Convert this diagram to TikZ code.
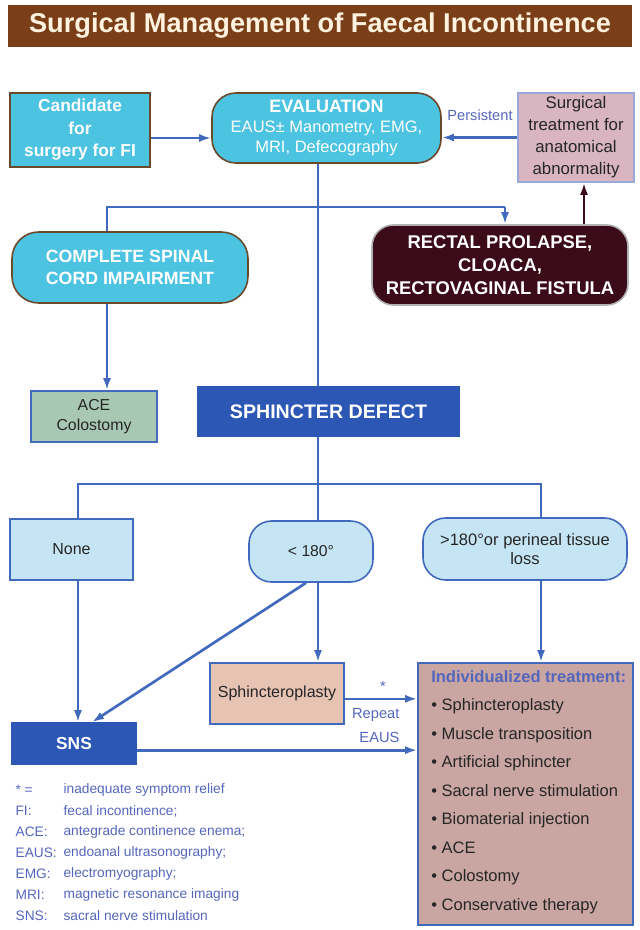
\documentclass[tikz,border=0pt]{standalone}
\usepackage{fontspec}
\setmainfont{Liberation Sans}
\usetikzlibrary{arrows.meta,positioning}
\definecolor{titlebrown}{HTML}{7A3E18}
\definecolor{cream}{HTML}{FFF2DF}
\definecolor{evalcyan}{HTML}{4CC3E1}
\definecolor{boxbrown}{HTML}{6B4A2C}
\definecolor{flowblue}{HTML}{4169BE}
\definecolor{darkblue}{HTML}{2D57B5}
\definecolor{paleblue}{HTML}{C6E5F4}
\definecolor{mauve}{HTML}{D8B5C1}
\definecolor{lilac}{HTML}{9AA8DC}
\definecolor{maroon}{HTML}{3C0B19}
\definecolor{sage}{HTML}{A9C8B3}
\definecolor{peach}{HTML}{E7C3B3}
\definecolor{dusty}{HTML}{C9A6A1}
\definecolor{legendblue}{HTML}{5466BC}

\begin{document}
\begin{tikzpicture}[x=0.75pt,y=-0.75pt,font=\fontsize{12}{16.5}\selectfont,
  box/.style={draw,line width=1.2pt,align=center,inner sep=2pt},
  cyanbox/.style={box,draw=boxbrown,fill=evalcyan,text=white,font=\fontsize{13}{16.9}\selectfont\bfseries},
  darkbox/.style={box,draw=darkblue,fill=darkblue,text=white,font=\fontsize{13}{16}\selectfont\bfseries},
  lightbox/.style={box,draw=flowblue,fill=paleblue,text=black!85},
  flow/.style={draw=flowblue,line width=2pt},
  arr/.style={-{Latex[length=9pt,width=6pt]}},
  bluetext/.style={text=legendblue,inner sep=1pt,font=\fontsize{11}{13}\selectfont},
  legend/.style={bluetext,anchor=west,font=\fontsize{10.3}{12}\selectfont}]
\useasboundingbox (0,0) rectangle (639,930);

\node[fill=titlebrown,text=cream,minimum width=468pt,minimum height=31.5pt,
  font=\fontsize{20.4}{22}\selectfont\bfseries] (title) at (320,26) {Surgical Management of Faecal Incontinence};

% top row
\node[cyanbox,minimum width=105pt,minimum height=55.5pt] (cand) at (80,130) {Candidate\\for\\surgery for FI};
\node[cyanbox,rounded corners=18pt,minimum width=171.75pt,minimum height=52.5pt,
  font=\fontsize{12.4}{15}\selectfont] (eval) at (326.5,128)
  {{\fontsize{13.5}{15}\selectfont\bfseries EVALUATION}\\EAUS± Manometry, EMG,\\MRI, Defecography};
\node[box,draw=lilac,fill=mauve,text=black!85,minimum width=87pt,minimum height=66.75pt,
  font=\fontsize{12.6}{16.5}\selectfont] (surg) at (576,137.5)
  {Surgical\\treatment for\\anatomical\\abnormality};
\node[bluetext] (persist) at (480,115) {Persistent};

% second row
\node[cyanbox,rounded corners=20pt,minimum width=177pt,minimum height=53.25pt,
  font=\fontsize{13.3}{16.5}\selectfont\bfseries] (spinal) at (130,267.5) {COMPLETE SPINAL\\CORD IMPAIRMENT};
\node[box,draw=gray!60,fill=maroon,text=white,rounded corners=16pt,minimum width=192pt,minimum height=60pt,
  font=\fontsize{13.8}{17}\selectfont\bfseries] (rectal) at (500,265) {RECTAL PROLAPSE,\\CLOACA,\\RECTOVAGINAL FISTULA};

\node[box,draw=flowblue,fill=sage,text=black!85,minimum width=94.5pt,minimum height=38.25pt,
  font=\fontsize{11.9}{15}\selectfont] (ace) at (94,416.5) {ACE\\Colostomy};
\node[darkbox,minimum width=195.75pt,minimum height=36.75pt,font=\fontsize{14.7}{16}\selectfont\bfseries] (defect) at (328.5,411.5) {SPHINCTER DEFECT};

% defect grades
\node[lightbox,minimum width=92.25pt,minimum height=45.75pt] (none) at (71.5,549.5) {None};
\node[lightbox,rounded corners=17pt,minimum width=93pt,minimum height=45.75pt,font=\fontsize{11.8}{14}\selectfont] (small) at (311,551.5) {< 180°};
\node[lightbox,rounded corners=17pt,minimum width=153pt,minimum height=46.5pt,font=\fontsize{12.4}{14.2}\selectfont] (large) at (525,549)
  {>180°or perineal tissue\\loss};

\node[box,draw=flowblue,fill=peach,text=black!85,minimum width=100.5pt,minimum height=45.75pt] (plasty) at (277,693.5) {Sphincteroplasty};
\node[darkbox,minimum width=93pt,minimum height=30.75pt] (sns) at (74,743.5) {SNS};
\node[box,draw=flowblue,fill=dusty,minimum width=161.25pt,minimum height=196.5pt] (indiv) at (525.5,794) {};
\node[anchor=north west,align=left,inner sep=0pt,text=black!85,font=\fontsize{12.4}{21.4}\selectfont] (indivlist) at (431,670)
  {{\color{legendblue}\bfseries Individualized treatment:}\\
   • Sphincteroplasty\\
   • Muscle transposition\\
   • Artificial sphincter\\
   • Sacral nerve stimulation\\
   • Biomaterial injection\\
   • ACE\\
   • Colostomy\\
   • Conservative therapy};

% branch points
\coordinate (top) at (318,207);
\coordinate (topL) at (107,207);
\coordinate (topR) at (505,207);
\coordinate (mid) at (318,484);
\coordinate (midL) at (78,484);
\coordinate (midR) at (541,484);

% connectors
\draw[flow,arr] ([yshift=-6pt]cand.east) -- ([yshift=-6pt]cand.east -| eval.west);
\draw[flow,arr] (surg.west) -- (surg.west -| eval.east);
\draw[flow] (eval.south -| top) -- (defect.north -| top);
\draw[flow] (topL |- spinal.north) -- (topL) -- (topR);
\draw[flow,arr] (topR) -- (topR |- rectal.north);
\draw[draw=maroon,line width=2pt,arr] ([xshift=6pt]rectal.north -| surg.south) -- ([xshift=6pt]surg.south);
\draw[flow,arr] (spinal.south -| topL) -- (ace.north -| topL);
\draw[flow] (defect.south -| mid) -- (small.north -| mid);
\draw[flow] (midL |- none.north) -- (midL) -- (midR) -- (midR |- large.north);
\draw[flow,arr] (none.south -| midL) -- (sns.north -| midL);
\draw[flow,arr] ([xshift=-3.75pt]small.south) -- ([xshift=13.5pt]sns.north);
\draw[flow,arr] (small.south -| mid) -- (plasty.north -| mid);
\draw[flow,arr] (large.south -| midR) -- (indiv.north -| midR);
\draw[flow,arr] ([yshift=-4pt]plasty.east) -- ([yshift=-4pt]plasty.east -| indiv.west);
\draw[flow,arr] ([yshift=-5pt]sns.east) -- ([yshift=-5pt]sns.east -| indiv.west);

\node[bluetext] (star) at (383,686) {*};
\node[bluetext,anchor=east] (repeat) at (401,715) {Repeat};
\node[bluetext,anchor=east] (eaus) at (401,737) {EAUS};

% legend
\foreach \k/\v [count=\n] in {* =/inadequate symptom relief,FI:/fecal incontinence;,
    ACE:/antegrade continence enema;,EAUS:/endoanal ultrasonography;,EMG:/electromyography;,
    MRI:/magnetic resonance imaging,SNS:/sacral nerve stimulation}{
  \node[legend] (key\n) at (14,{790+21*(\n-1)}) {\k};
  \node[legend] (val\n) at (62,{790+21*(\n-1)}) {\v};
}
\end{tikzpicture}
\end{document}
